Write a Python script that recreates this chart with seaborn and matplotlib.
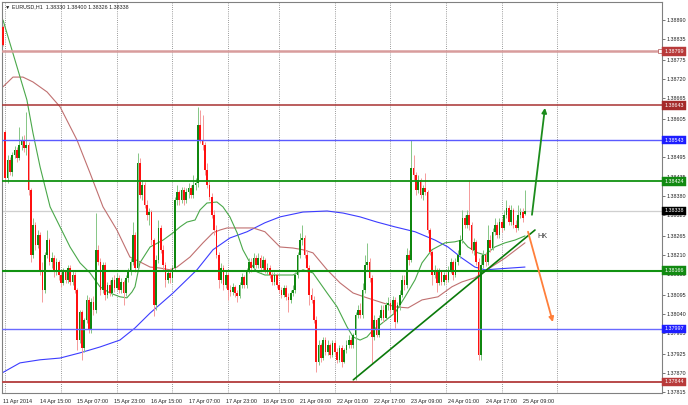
import numpy as np
import pandas as pd
import matplotlib
matplotlib.use("Agg")
import matplotlib.pyplot as plt
from matplotlib.transforms import blended_transform_factory
import seaborn as sns

# ---------------- data ----------------
opens = [
1.38870, 1.38567, 1.38434, 1.38486, 1.38451, 1.38500, 1.38515, 1.38491, 1.38529, 1.38543,
1.38520, 1.38529, 1.38399, 1.38211, 1.38298, 1.38240, 1.38269, 1.38168, 1.38110, 1.38211,
1.38254, 1.38191, 1.38202, 1.38162, 1.38191, 1.38153, 1.38130, 1.38162, 1.38139, 1.38174,
1.38133, 1.38153, 1.38110, 1.37965, 1.38046, 1.37942, 1.38023, 1.38081, 1.37994, 1.38075,
1.38052, 1.38226, 1.38191, 1.38110, 1.38182, 1.38095, 1.38124, 1.38101, 1.38139, 1.38116,
1.38145, 1.38110, 1.38133, 1.38101, 1.38145, 1.38162, 1.38191, 1.38269, 1.38174, 1.38477,
1.38384, 1.38413, 1.38356, 1.38327, 1.38335, 1.38254, 1.38067, 1.38197, 1.38289, 1.38226,
1.38182, 1.38139, 1.38159, 1.38145, 1.38174, 1.38370, 1.38393, 1.38370, 1.38399, 1.38370,
1.38393, 1.38405, 1.38384, 1.38413, 1.38419, 1.38587, 1.38543, 1.38529, 1.38457, 1.38413,
1.38379, 1.38327, 1.38283, 1.38211, 1.38139, 1.38174, 1.38124, 1.38153, 1.38110, 1.38104,
1.38119, 1.38101, 1.38093, 1.38124, 1.38147, 1.38124, 1.38168, 1.38191, 1.38174, 1.38202,
1.38182, 1.38202, 1.38174, 1.38197, 1.38168, 1.38174, 1.38153, 1.38133, 1.38153, 1.38124,
1.38110, 1.38095, 1.38116, 1.38090, 1.38081, 1.38101, 1.38110, 1.38153, 1.38211, 1.38254,
1.38260, 1.38211, 1.38174, 1.38095, 1.38081, 1.38023, 1.37902, 1.37951, 1.37913, 1.37965,
1.37931, 1.37951, 1.37922, 1.37957, 1.37931, 1.37908, 1.37942, 1.37902, 1.37936, 1.37951,
1.37965, 1.37951, 1.37980, 1.38038, 1.38052, 1.38038, 1.38110, 1.38182, 1.38191, 1.38145,
1.37974, 1.38023, 1.37980, 1.38029, 1.38052, 1.38029, 1.38067, 1.38072, 1.38052, 1.38081,
1.38017, 1.38067, 1.38095, 1.38139, 1.38124, 1.38211, 1.38197, 1.38462, 1.38442, 1.38399,
1.38428, 1.38384, 1.38405, 1.38393, 1.38283, 1.38220, 1.38153, 1.38168, 1.38130, 1.38162,
1.38133, 1.38153, 1.38139, 1.38168, 1.38191, 1.38153, 1.38191, 1.38211, 1.38254, 1.38318,
1.38298, 1.38327, 1.38298, 1.38226, 1.38249, 1.38191, 1.37922, 1.38182, 1.38211, 1.38191,
1.38254, 1.38231, 1.38278, 1.38298, 1.38269, 1.38306, 1.38289, 1.38327, 1.38347, 1.38306,
1.38341, 1.38298, 1.38289, 1.38327, 1.38335, 1.38330]

closes = [
1.38818, 1.38434, 1.38486, 1.38451, 1.38500, 1.38515, 1.38491, 1.38529, 1.38543, 1.38520,
1.38529, 1.38399, 1.38211, 1.38298, 1.38240, 1.38269, 1.38168, 1.38110, 1.38211, 1.38254,
1.38191, 1.38202, 1.38162, 1.38191, 1.38153, 1.38130, 1.38162, 1.38139, 1.38174, 1.38133,
1.38153, 1.38110, 1.37965, 1.38046, 1.37942, 1.38023, 1.38081, 1.37994, 1.38075, 1.38052,
1.38226, 1.38191, 1.38110, 1.38182, 1.38095, 1.38124, 1.38101, 1.38139, 1.38116, 1.38145,
1.38110, 1.38133, 1.38101, 1.38145, 1.38162, 1.38191, 1.38269, 1.38174, 1.38477, 1.38384,
1.38413, 1.38356, 1.38327, 1.38335, 1.38254, 1.38067, 1.38197, 1.38289, 1.38226, 1.38182,
1.38139, 1.38159, 1.38145, 1.38174, 1.38370, 1.38393, 1.38370, 1.38399, 1.38370, 1.38393,
1.38405, 1.38384, 1.38413, 1.38419, 1.38587, 1.38543, 1.38529, 1.38457, 1.38413, 1.38379,
1.38327, 1.38283, 1.38211, 1.38139, 1.38174, 1.38124, 1.38153, 1.38110, 1.38104, 1.38119,
1.38101, 1.38093, 1.38124, 1.38147, 1.38124, 1.38168, 1.38191, 1.38174, 1.38202, 1.38182,
1.38202, 1.38174, 1.38197, 1.38168, 1.38174, 1.38153, 1.38133, 1.38153, 1.38124, 1.38110,
1.38095, 1.38116, 1.38090, 1.38081, 1.38101, 1.38110, 1.38153, 1.38211, 1.38254, 1.38260,
1.38211, 1.38174, 1.38095, 1.38081, 1.38023, 1.37902, 1.37951, 1.37913, 1.37965, 1.37931,
1.37951, 1.37922, 1.37957, 1.37931, 1.37908, 1.37942, 1.37902, 1.37936, 1.37951, 1.37965,
1.37951, 1.37980, 1.38038, 1.38052, 1.38038, 1.38110, 1.38182, 1.38191, 1.38145, 1.37974,
1.38023, 1.37980, 1.38029, 1.38052, 1.38029, 1.38067, 1.38072, 1.38052, 1.38081, 1.38017,
1.38067, 1.38095, 1.38139, 1.38124, 1.38211, 1.38197, 1.38462, 1.38442, 1.38399, 1.38428,
1.38384, 1.38405, 1.38393, 1.38283, 1.38220, 1.38153, 1.38168, 1.38130, 1.38162, 1.38133,
1.38153, 1.38139, 1.38168, 1.38191, 1.38153, 1.38191, 1.38211, 1.38254, 1.38318, 1.38298,
1.38327, 1.38298, 1.38226, 1.38249, 1.38191, 1.37922, 1.38182, 1.38211, 1.38191, 1.38254,
1.38231, 1.38278, 1.38298, 1.38269, 1.38306, 1.38289, 1.38327, 1.38347, 1.38306, 1.38341,
1.38298, 1.38289, 1.38327, 1.38335, 1.38318, 1.38338]

highs = [
1.38876, 1.38572, 1.38500, 1.38494, 1.38509, 1.38526, 1.38523, 1.38581, 1.38555, 1.38558,
1.38624, 1.38538, 1.38405, 1.38318, 1.38306, 1.38283, 1.38278, 1.38191, 1.38220, 1.38283,
1.38260, 1.38220, 1.38211, 1.38202, 1.38197, 1.38162, 1.38174, 1.38168, 1.38182, 1.38182,
1.38168, 1.38162, 1.38116, 1.38052, 1.38052, 1.38029, 1.38095, 1.38090, 1.38087, 1.38093,
1.38332, 1.38240, 1.38202, 1.38191, 1.38191, 1.38133, 1.38139, 1.38147, 1.38153, 1.38159,
1.38153, 1.38145, 1.38139, 1.38153, 1.38174, 1.38202, 1.38306, 1.38278, 1.38506, 1.38491,
1.38428, 1.38422, 1.38370, 1.38347, 1.38341, 1.38260, 1.38211, 1.38312, 1.38298, 1.38240,
1.38191, 1.38168, 1.38174, 1.38182, 1.38379, 1.38413, 1.38399, 1.38408, 1.38408, 1.38405,
1.38419, 1.38413, 1.38442, 1.38434, 1.38639, 1.38630, 1.38616, 1.38538, 1.38477, 1.38428,
1.38390, 1.38341, 1.38298, 1.38220, 1.38188, 1.38182, 1.38168, 1.38162, 1.38124, 1.38130,
1.38124, 1.38110, 1.38133, 1.38159, 1.38153, 1.38174, 1.38202, 1.38202, 1.38217, 1.38211,
1.38217, 1.38211, 1.38208, 1.38202, 1.38188, 1.38182, 1.38162, 1.38162, 1.38159, 1.38133,
1.38119, 1.38124, 1.38124, 1.38101, 1.38110, 1.38124, 1.38162, 1.38220, 1.38275, 1.38298,
1.38269, 1.38226, 1.38182, 1.38116, 1.38093, 1.38035, 1.37965, 1.37957, 1.37974, 1.37974,
1.37965, 1.37957, 1.37965, 1.37965, 1.37942, 1.37951, 1.37951, 1.37942, 1.37965, 1.37980,
1.37974, 1.37986, 1.38046, 1.38067, 1.38072, 1.38130, 1.38211, 1.38246, 1.38202, 1.38153,
1.38038, 1.38029, 1.38038, 1.38067, 1.38067, 1.38075, 1.38090, 1.38081, 1.38093, 1.38090,
1.38075, 1.38110, 1.38153, 1.38153, 1.38231, 1.38226, 1.38543, 1.38500, 1.38451, 1.38442,
1.38434, 1.38413, 1.38448, 1.38399, 1.38289, 1.38226, 1.38182, 1.38174, 1.38174, 1.38168,
1.38162, 1.38162, 1.38179, 1.38202, 1.38197, 1.38202, 1.38226, 1.38269, 1.38341, 1.38327,
1.38341, 1.38428, 1.38306, 1.38260, 1.38254, 1.38202, 1.38211, 1.38226, 1.38220, 1.38298,
1.38269, 1.38289, 1.38318, 1.38306, 1.38318, 1.38318, 1.38341, 1.38370, 1.38356, 1.38356,
1.38347, 1.38312, 1.38356, 1.38347, 1.38347, 1.38400]

lows = [
1.38815, 1.38422, 1.38419, 1.38442, 1.38439, 1.38491, 1.38480, 1.38486, 1.38515, 1.38509,
1.38500, 1.38384, 1.38191, 1.38202, 1.38226, 1.38231, 1.38153, 1.38075, 1.38101, 1.38202,
1.38182, 1.38174, 1.38147, 1.38153, 1.38139, 1.38119, 1.38124, 1.38130, 1.38130, 1.38124,
1.38124, 1.38101, 1.37936, 1.37957, 1.37908, 1.37931, 1.38015, 1.37986, 1.37986, 1.38038,
1.38043, 1.38182, 1.38095, 1.38101, 1.38081, 1.38087, 1.38093, 1.38093, 1.38104, 1.38110,
1.38101, 1.38101, 1.38067, 1.38093, 1.38133, 1.38153, 1.38182, 1.38162, 1.38168, 1.38376,
1.38370, 1.38347, 1.38312, 1.38298, 1.38240, 1.38035, 1.38052, 1.38188, 1.38217, 1.38168,
1.38119, 1.38130, 1.38130, 1.38133, 1.38168, 1.38356, 1.38356, 1.38361, 1.38356, 1.38361,
1.38376, 1.38376, 1.38376, 1.38399, 1.38408, 1.38535, 1.38515, 1.38442, 1.38405, 1.38370,
1.38318, 1.38269, 1.38202, 1.38116, 1.38130, 1.38110, 1.38116, 1.38081, 1.38093, 1.38095,
1.38090, 1.38075, 1.38087, 1.38116, 1.38116, 1.38116, 1.38159, 1.38162, 1.38168, 1.38174,
1.38174, 1.38162, 1.38168, 1.38159, 1.38153, 1.38145, 1.38124, 1.38124, 1.38116, 1.38101,
1.38087, 1.38090, 1.38081, 1.38046, 1.38072, 1.38093, 1.38101, 1.38145, 1.38202, 1.38240,
1.38202, 1.38162, 1.38067, 1.38072, 1.38015, 1.37873, 1.37893, 1.37902, 1.37908, 1.37922,
1.37922, 1.37913, 1.37916, 1.37922, 1.37899, 1.37902, 1.37887, 1.37899, 1.37928, 1.37942,
1.37942, 1.37942, 1.37850, 1.38029, 1.38029, 1.38029, 1.38101, 1.38168, 1.38133, 1.37899,
1.37965, 1.37974, 1.37974, 1.38023, 1.38017, 1.38023, 1.38052, 1.38043, 1.38043, 1.38000,
1.38015, 1.38052, 1.38090, 1.38110, 1.38116, 1.38182, 1.38191, 1.38428, 1.38384, 1.38390,
1.38376, 1.38370, 1.38384, 1.38275, 1.38211, 1.38124, 1.38145, 1.38104, 1.38124, 1.38124,
1.38124, 1.38130, 1.38133, 1.38159, 1.38139, 1.38147, 1.38182, 1.38202, 1.38246, 1.38289,
1.38289, 1.38283, 1.38217, 1.38211, 1.38182, 1.37908, 1.37908, 1.38174, 1.38179, 1.38182,
1.38220, 1.38226, 1.38269, 1.38260, 1.38260, 1.38278, 1.38283, 1.38318, 1.38298, 1.38298,
1.38289, 1.38278, 1.38283, 1.38318, 1.38306, 1.38326]

# moving averages (bar index, price)
ma_fast_bar = [0, 10.3, 12.9, 16, 20.3, 24.6, 28.9, 33.2, 37.5, 41.8, 46.1, 50.4, 53.4, 55.6,
               56.9, 59, 63.4, 69, 73.3, 76.3, 79.3, 82.8, 84.9, 87.9, 92.2, 94.8, 97.8, 100.9,
               103.4, 106.5, 109.5, 112.9, 116.4, 125, 129.3, 133.6, 139.7, 144, 148.3, 150.9,
               153.9, 156.9, 159.5, 162.5, 166.8, 169, 173.3, 177.6, 180.6, 184.9, 190.5, 194.8,
               197.8, 200.4, 204.7, 207.8, 212, 216.4, 220.7, 225]
ma_fast_val = [1.38890, 1.38659, 1.38564, 1.38465, 1.38350, 1.38292, 1.38234, 1.38188, 1.38159,
               1.38119, 1.38101, 1.38090, 1.38087, 1.38104, 1.38119, 1.38188, 1.38234, 1.38254,
               1.38275, 1.38292, 1.38306, 1.38312, 1.38341, 1.38361, 1.38364, 1.38350, 1.38321,
               1.38275, 1.38226, 1.38188, 1.38162, 1.38153, 1.38153, 1.38153, 1.38168, 1.38159,
               1.38101, 1.38061, 1.38003, 1.37974, 1.37965, 1.37974, 1.37994, 1.38009, 1.38032,
               1.38044, 1.38090, 1.38139, 1.38188, 1.38226, 1.38246, 1.38249, 1.38254, 1.38234,
               1.38217, 1.38211, 1.38234, 1.38246, 1.38254, 1.38266]

ma_mid_bar = [0, 4.3, 8.6, 12.9, 19, 24.6, 31.9, 37.5, 43.1, 49.1, 54.7, 59, 63.4, 67.7, 72, 75,
              80.6, 86.2, 90.5, 93.5, 96.6, 102.2, 107.8, 112.9, 119.4, 125, 129.3, 133.6, 139.7,
              145.3, 150.9, 156.9, 162.5, 169, 174.6, 180.6, 187.5, 193.5, 197.8, 203.4, 210,
              216.4, 225]
ma_mid_val = [1.38697, 1.38725, 1.38725, 1.38711, 1.38682, 1.38639, 1.38543, 1.38448, 1.38350,
              1.38283, 1.38205, 1.38191, 1.38176, 1.38173, 1.38168, 1.38176, 1.38205, 1.38246,
              1.38275, 1.38283, 1.38289, 1.38289, 1.38289, 1.38278, 1.38234, 1.38231, 1.38226,
              1.38217, 1.38168, 1.38130, 1.38101, 1.38087, 1.38075, 1.38061, 1.38058, 1.38081,
              1.38090, 1.38119, 1.38133, 1.38145, 1.38174, 1.38202, 1.38246]

ma_slow_bar = [-0.4, 7.3, 16, 24.6, 33.2, 41.8, 50.4, 56.9, 63.4, 73.3, 83.6, 90.5, 97.8, 105.2,
               112.9, 119.4, 129.3, 139.7, 146.6, 153.9, 161.2, 169, 177.6, 186.2, 191.8, 197.8,
               203.4, 207.8, 212, 225]
ma_slow_val = [1.37870, 1.37899, 1.37908, 1.37913, 1.37928, 1.37945, 1.37965, 1.38000, 1.38043,
               1.38101, 1.38168, 1.38226, 1.38260, 1.38278, 1.38304, 1.38321, 1.38335, 1.38338,
               1.38332, 1.38321, 1.38306, 1.38292, 1.38278, 1.38254, 1.38234, 1.38202, 1.38176,
               1.38168, 1.38170, 1.38176]

level_values = [1.38799, 1.38643, 1.38543, 1.38424, 1.38166, 1.37997, 1.37844]
level_colors = ["#d89c9c", "#a83232", "#5a5aff", "#119211", "#119211", "#6a6aff", "#b84a4a"]
level_box_colors = ["#b83a3a", "#a52a2a", "#1e1eff", "#128a12", "#128a12", "#1e1eff", "#b83a3a"]
level_widths = [1.8, 1.1, 1.0, 1.3, 1.5, 1.0, 1.4]
current_price = 1.38338

ytick_values = [1.38890, 1.38835, 1.38775, 1.38720, 1.38665, 1.38605, 1.38550, 1.38495,
                1.38435, 1.38380, 1.38325, 1.38265, 1.38210, 1.38155, 1.38095, 1.38040,
                1.37985, 1.37925, 1.37870, 1.37815]
# labels that sit fully under a price box in the reference are not visible
ytick_hidden = [1.38550]

xtick_bars = [0, 16, 32, 48, 64, 80, 96, 112, 128, 144, 160, 176, 192, 208, 224]
xtick_labels = ["11 Apr 2014", "14 Apr 15:00", "15 Apr 07:00", "15 Apr 23:00", "16 Apr 15:00",
                "17 Apr 07:00", "17 Apr 23:00", "18 Apr 15:00", "21 Apr 09:00", "22 Apr 01:00",
                "22 Apr 17:00", "23 Apr 09:00", "24 Apr 01:00", "24 Apr 17:00", "25 Apr 09:00"]
day_start_bars = [1, 25, 49, 73, 97, 119, 143, 167, 191, 215, 239]

trend_bars = [151, 229.3]
trend_prices = [1.37850, 1.38283]
up_arrow = [(228.0, 1.38327), (233.6, 1.38636)]
down_arrow = [(226.3, 1.38278), (237.0, 1.38017)]
hk_pos = (230.4, 1.38263)

title = "\u25bc EURUSD,H1  1.38330 1.38400 1.38326 1.38338"

# ---------------- plotting ----------------
sns.set_style("white")
plt.rcParams["font.family"] = ["Liberation Sans", "DejaVu Sans"]

fig = plt.figure(figsize=(6.88, 4.05), dpi=100)
ax = fig.add_axes([2 / 688, 12 / 405, 660 / 688, 391 / 405])
ax.set_xlim(-0.43, 284.05)
ax.set_ylim(1.37812, 1.38942)

for b in day_start_bars:
    ax.axvline(b, color="#7a7a7a", lw=0.6, ls=(0, (1, 1.6)), zorder=0)

ax.axhline(current_price, color="#cfcfcf", lw=0.9, zorder=1)

df = pd.DataFrame({"o": opens, "h": highs, "l": lows, "c": closes})
df["bar"] = np.arange(len(df))
up = df["c"] >= df["o"]

fast = pd.DataFrame({"bar": ma_fast_bar, "price": ma_fast_val})
mid = pd.DataFrame({"bar": ma_mid_bar, "price": ma_mid_val})
slow = pd.DataFrame({"bar": ma_slow_bar, "price": ma_slow_val})
sns.lineplot(data=slow, x="bar", y="price", color="#3c3cff", lw=0.8, ax=ax, zorder=2, sort=False)
sns.lineplot(data=mid, x="bar", y="price", color="#c07070", lw=0.8, ax=ax, zorder=2, sort=False)
sns.lineplot(data=fast, x="bar", y="price", color="#4aa84a", lw=0.8, ax=ax, zorder=2, sort=False)

wick_cols = np.where(up, "#86c686", "#f59a9a")
ax.vlines(df["bar"], df["l"], df["h"], colors=wick_cols, lw=0.7, zorder=3)
body_bottom = np.minimum(df["o"], df["c"])
body_h = np.maximum(np.abs(df["c"] - df["o"]), 0.000015)
body_cols = np.where(up, "#0f870f", "#ff1010")
ax.bar(df["bar"], body_h, bottom=body_bottom, width=0.72, color=body_cols, lw=0, zorder=3.5)

for v, c, w in zip(level_values, level_colors, level_widths):
    ax.axhline(v, color=c, lw=w, zorder=4)
ax.plot([283.2], [level_values[0]], marker="s", ms=2.2, mfc="white", mec="#b05050", mew=0.5,
        zorder=5, clip_on=False)

ax.plot(trend_bars, trend_prices, color="#0a7a0a", lw=1.2, zorder=5)
ax.annotate("", xy=up_arrow[1], xytext=up_arrow[0],
            arrowprops=dict(arrowstyle="-|>", color="#1c8c1c", lw=1.3, mutation_scale=7,
                            shrinkA=0, shrinkB=0), zorder=6)
ax.annotate("", xy=down_arrow[1], xytext=down_arrow[0],
            arrowprops=dict(arrowstyle="-|>", color="#ff7f3a", lw=1.3, mutation_scale=7,
                            shrinkA=0, shrinkB=0), zorder=6)
ax.text(hk_pos[0], hk_pos[1], "HK", fontsize=5.2, color="#3a3a3a", ha="left", va="center", zorder=6)

ax.text(0.004, 0.993, title, transform=ax.transAxes, fontsize=3.9, color="#202020",
        ha="left", va="top", zorder=7)

# axes styling
for s in ax.spines.values():
    s.set_color("#808080")
    s.set_linewidth(0.8)
ax.yaxis.tick_right()
ax.set_yticks(ytick_values)
ax.set_yticklabels(["" if v in ytick_hidden else f"{v:.5f}" for v in ytick_values])
ax.tick_params(axis="y", direction="out", length=2, width=0.5, labelsize=3.9, pad=1.2,
               labelcolor="#202020", color="#404040")
ax.set_xticks(xtick_bars)
ax.set_xticklabels(xtick_labels, ha="left")
ax.tick_params(axis="x", direction="out", length=3, width=0.5, labelsize=3.9, pad=1.2,
               labelcolor="#202020", color="#404040")
ax.set_xlabel("")
ax.set_ylabel("")

trans = blended_transform_factory(ax.transAxes, ax.transData)
for v, c in zip(level_values + [current_price], level_box_colors + ["#000000"]):
    ax.text(1.0035, v, f"{v:.5f}", transform=trans, fontsize=3.9, color="white",
            ha="left", va="center", zorder=10, clip_on=False,
            bbox=dict(boxstyle="square,pad=0.35", fc=c, ec=c, lw=0.3))

fig.savefig("out.png", dpi=100, facecolor="white")
